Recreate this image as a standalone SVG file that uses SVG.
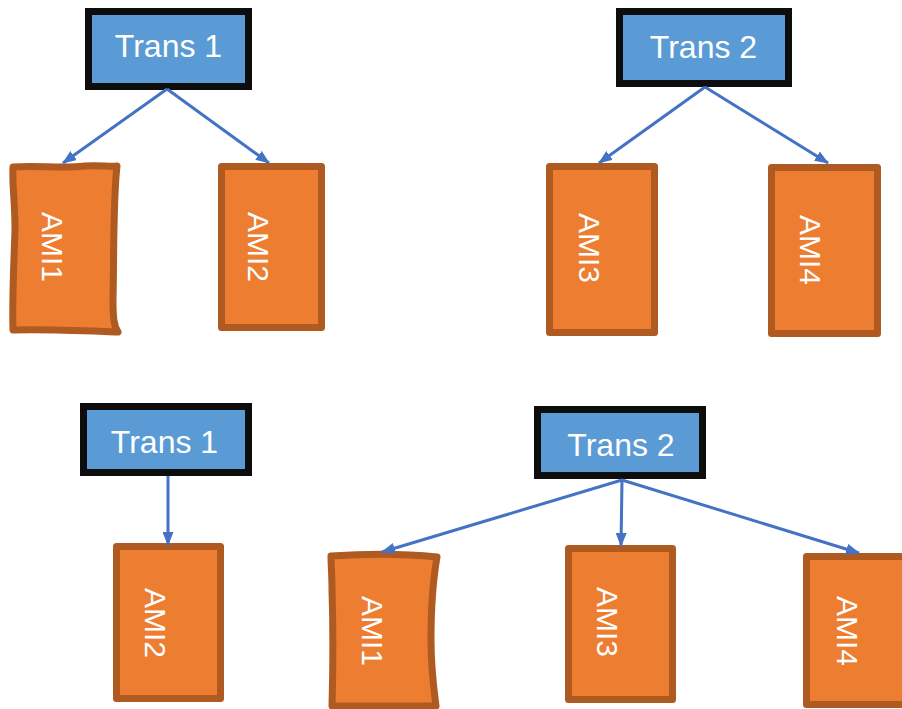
<svg xmlns="http://www.w3.org/2000/svg" width="902" height="709" viewBox="0 0 902 709">
<style>
.trans{fill:#5B9BD5;stroke:#0D0D0D;stroke-width:7}
.ami{fill:#ED7D31;stroke:#AE5A21;stroke-width:7;stroke-linejoin:round}
.tt{font-family:"Liberation Sans",Arial,sans-serif;font-size:32px;fill:#FFFFFF;text-anchor:middle}
.at{font-family:"Liberation Sans",Arial,sans-serif;font-size:30px;fill:#FFFFFF;text-anchor:middle}
.conn line{stroke:#4472C4;stroke-width:3;fill:none;marker-end:url(#ah)}
</style>
<defs>
<marker id="ah" markerUnits="userSpaceOnUse" viewBox="0 0 14 11" markerWidth="14" markerHeight="11" refX="13" refY="5.5" orient="auto">
<path d="M0,0 L14,5.5 L0,11 z" fill="#4472C4"/>
</marker>
</defs>
<rect width="902" height="709" fill="#FFFFFF"/>

<g id="top-trans1"><rect class="trans" x="88.5" y="11.5" width="160" height="75"/><text class="tt" x="168.5" y="57">Trans 1</text></g>
<g id="top-trans2"><rect class="trans" x="619.5" y="11.5" width="169" height="72"/><text class="tt" x="703.5" y="58">Trans 2</text></g>

<g id="top-ami1"><path class="ami" d="M13,167 C40,165 60,169 85,166 C100,165 110,167 117,166 C113,200 114,260 113,300 C113,318 114,326 118,332 C90,331 50,329 13,330 C12,300 14,260 15,230 C15,200 12,185 13,167 Z"/><text class="at" transform="translate(84,247) rotate(90)" y="42">AMI1</text></g>
<g id="top-ami2"><rect class="ami" x="221.5" y="166.5" width="100" height="161"/><text class="at" transform="translate(290,247) rotate(90)" y="42">AMI2</text></g>
<g id="top-ami3"><rect class="ami" x="549.5" y="166.5" width="105" height="166"/><text class="at" transform="translate(621,248) rotate(90)" y="42">AMI3</text></g>
<g id="top-ami4"><rect class="ami" x="771.5" y="167.5" width="106" height="166"/><text class="at" transform="translate(842,250) rotate(90)" y="42">AMI4</text></g>

<g id="bot-trans1"><rect class="trans" x="83.5" y="406.5" width="165" height="66"/><text class="tt" x="164.5" y="453">Trans 1</text></g>
<g id="bot-trans2"><rect class="trans" x="537.5" y="409.5" width="165" height="66"/><text class="tt" x="621" y="456">Trans 2</text></g>

<g id="bot-ami2"><rect class="ami" x="116.5" y="546.5" width="104" height="152"/><text class="at" transform="translate(187,623) rotate(90)" y="42">AMI2</text></g>
<g id="bot-ami1"><path class="ami" d="M331,556 C360,554 400,553 437,557 C433,580 431,610 431,640 C431,670 434,690 436,706 C400,706 360,706 332,706 C333,670 333,620 332,590 C332,575 331,565 331,556 Z"/><text class="at" transform="translate(404,631) rotate(90)" y="42">AMI1</text></g>
<g id="bot-ami3"><rect class="ami" x="568.5" y="548.5" width="104" height="151"/><text class="at" transform="translate(639,622) rotate(90)" y="42">AMI3</text></g>
<g id="bot-ami4"><rect class="ami" x="806.5" y="556.5" width="110" height="148"/><text class="at" transform="translate(879,631) rotate(90)" y="42">AMI4</text></g>

<g id="connectors" class="conn">
<line x1="167" y1="89" x2="63" y2="163"/>
<line x1="167" y1="89" x2="269" y2="163"/>
<line x1="705" y1="87" x2="599" y2="163"/>
<line x1="705" y1="87" x2="828" y2="163"/>
<line x1="168" y1="476" x2="168" y2="545"/>
<line x1="622" y1="480" x2="621" y2="546"/>
<line x1="622" y1="480" x2="382" y2="552"/>
<line x1="622" y1="480" x2="859" y2="553"/>
</g>
</svg>
